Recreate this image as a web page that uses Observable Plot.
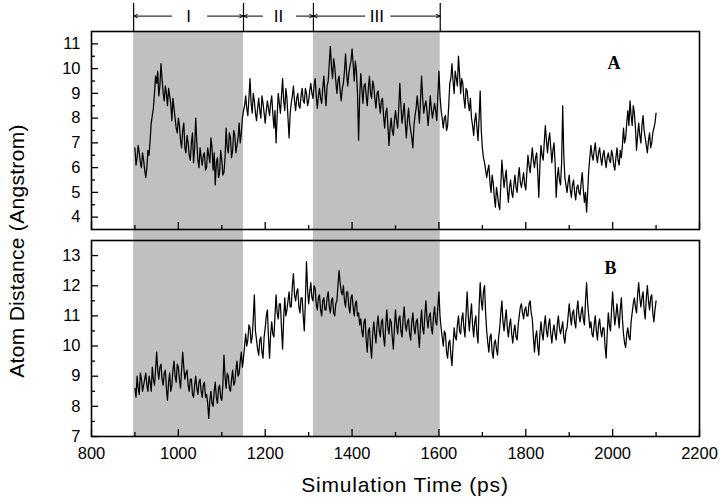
<!DOCTYPE html>
<html>
<head>
<meta charset="utf-8">
<script src="https://cdn.jsdelivr.net/npm/d3@7"></script>
<script src="https://cdn.jsdelivr.net/npm/@observablehq/plot@0.6"></script>
<style>
  body { margin: 0; background: #fff; }
  #wrap { position: relative; width: 720px; height: 499px; overflow: hidden; background: #fff;
          font-family: "Liberation Sans", Arial, sans-serif; color: #000; }
  #wrap svg { position: absolute; left: 0; }
  .title { position: absolute; white-space: nowrap; font-size: 21px; transform-origin: center; }
</style>
</head>
<body>
<div id="wrap"></div>
<script>
// ---- data ----
const timeStart = 900;   // ps, first sample
const timeStep = 5;      // ps between samples of the main arrays; *Mid arrays sit half-way between
const distanceA = [
  6.8, 6.4, 6.6, 6.0, 6.3, 5.6, 6.7, 7.1, 8.1, 9.0,
  9.4, 8.9, 10.2, 9.0, 9.3, 8.5, 8.9, 7.9, 8.4, 7.6,
  8.0, 7.1, 7.5, 6.8, 7.3, 6.5, 7.0, 6.2, 8.0, 6.3,
  6.8, 6.1, 6.6, 6.0, 6.5, 7.2, 5.9, 5.3, 6.4, 5.8,
  6.3, 5.8, 7.6, 6.6, 7.2, 6.7, 7.3, 6.9, 7.8, 7.4,
  8.3, 8.9, 8.1, 9.6, 8.2, 8.7, 7.9, 8.8, 8.0, 8.6,
  7.8, 8.7, 8.1, 8.9, 7.6, 7.0, 9.0, 8.2, 9.6, 8.3,
  8.8, 7.2, 8.6, 9.3, 8.3, 9.0, 8.4, 9.2, 8.6, 9.0,
  8.7, 9.4, 8.8, 9.6, 8.4, 9.2, 8.6, 9.7, 8.5, 9.5,
  10.9, 9.6, 10.1, 9.0, 9.7, 8.7, 9.4, 10.6, 9.3, 10.1,
  10.8, 9.5, 9.9, 7.1, 9.8, 8.6, 9.4, 8.5, 9.7, 8.8,
  9.3, 8.4, 9.1, 8.2, 8.8, 7.6, 8.4, 6.9, 8.0, 7.3,
  8.3, 7.6, 9.4, 7.8, 8.6, 7.2, 8.4, 7.5, 6.8, 8.1,
  8.9, 7.8, 9.7, 8.2, 8.7, 7.7, 8.9, 8.0, 8.6, 7.9,
  9.9, 8.3, 7.6, 8.1, 7.7, 9.4, 10.2, 9.0, 9.6, 10.5,
  9.0, 9.4, 8.4, 9.1, 8.3, 8.0, 7.3, 8.2, 7.1, 9.1,
  6.8, 6.2, 5.6, 6.1, 5.0, 5.4, 4.4, 4.9, 4.3, 6.3,
  5.2, 5.9, 4.6, 5.5, 4.8, 5.7, 5.0, 6.0, 5.2, 5.8,
  5.1, 6.5, 5.8, 6.8, 6.0, 6.6, 4.8, 6.9, 6.3, 7.7,
  6.6, 7.4, 6.2, 7.0, 4.8, 6.0, 5.3, 8.5, 5.6, 5.0,
  5.7, 4.8, 5.5, 4.7, 5.3, 4.9, 5.8, 4.6, 4.2, 5.9,
  6.9, 6.3, 7.0, 6.2, 6.8, 6.1, 6.7, 6.0, 6.6, 6.2,
  6.5, 5.9, 6.8, 6.1, 6.4, 7.6, 7.2, 8.3, 8.7, 7.7,
  8.2, 6.7, 7.8, 7.0, 8.1, 7.2, 6.6, 7.4, 7.0, 7.6,
  8.2
];
const distanceAMid = [
  6.1, 6.9, 6.2, 6.6, 5.9, 6.0, 6.5, 7.8, 8.4, 9.7,
  9.9, 9.3, 9.6, 8.7, 9.0, 9.2, 8.6, 8.8, 8.0, 7.4,
  7.7, 6.8, 7.8, 6.6, 7.0, 6.3, 7.4, 6.8, 7.0, 6.0,
  6.4, 6.5, 5.9, 6.8, 6.2, 6.8, 6.6, 6.2, 5.6, 6.7,
  5.7, 6.4, 6.8, 7.4, 6.4, 7.5, 6.6, 7.2, 7.0, 8.0,
  8.5, 8.4, 8.8, 8.6, 9.0, 8.2, 8.4, 8.3, 8.9, 8.2,
  8.3, 8.4, 8.6, 8.2, 8.3, 8.1, 8.6, 8.9, 8.7, 9.2,
  8.0, 8.2, 8.9, 8.7, 8.8, 8.5, 8.9, 8.7, 9.2, 8.5,
  9.1, 9.0, 9.3, 8.9, 8.9, 8.8, 9.2, 9.0, 9.3, 10.2,
  10.1, 10.4, 9.5, 9.5, 9.1, 9.2, 9.9, 9.8, 9.8, 10.3,
  10.2, 10.3, 9.0, 8.8, 9.2, 9.3, 8.9, 9.2, 9.0, 9.5,
  8.8, 9.0, 8.6, 8.7, 8.1, 8.2, 7.7, 7.6, 7.5, 7.9,
  7.9, 8.4, 8.5, 8.2, 7.8, 7.9, 7.8, 7.2, 7.7, 8.4,
  8.4, 8.7, 8.8, 8.5, 8.3, 8.2, 8.4, 8.3, 8.3, 8.9,
  8.9, 8.0, 8.0, 7.5, 8.5, 9.6, 9.5, 9.9, 9.3, 9.8,
  9.6, 8.8, 9.2, 8.6, 8.8, 7.7, 7.9, 7.6, 8.0, 7.5,
  6.4, 5.9, 5.9, 5.4, 5.7, 4.8, 5.2, 4.5, 5.3, 5.7,
  5.6, 5.1, 5.2, 5.0, 5.3, 5.2, 5.6, 5.4, 5.5, 5.3,
  5.8, 6.1, 6.3, 6.3, 6.4, 5.8, 6.1, 6.5, 7.0, 7.1,
  7.1, 6.8, 6.7, 6.2, 5.6, 5.5, 6.2, 6.5, 5.3, 5.4,
  5.1, 5.3, 5.0, 5.2, 5.0, 5.4, 5.1, 5.0, 5.0, 6.4,
  6.5, 6.7, 6.5, 6.6, 6.4, 6.5, 6.3, 6.4, 6.3, 6.7,
  6.1, 6.4, 6.3, 6.7, 6.9, 7.0, 7.8, 7.7, 8.1, 8.5,
  7.6, 7.3, 7.3, 7.7, 7.5, 6.9, 7.1, 6.8, 7.4, 7.8
];
const distanceB = [
  8.6, 9.0, 8.4, 8.9, 8.7, 9.1, 8.5, 8.8, 9.3, 8.7,
  9.8, 8.9, 9.4, 8.7, 9.2, 8.2, 9.1, 8.7, 9.5, 8.8,
  9.3, 8.6, 9.8, 8.9, 9.2, 8.5, 8.9, 8.3, 9.0, 8.4,
  8.9, 8.3, 8.8, 8.4, 7.6, 8.5, 8.0, 8.8, 8.1, 8.7,
  8.2, 9.7, 8.6, 9.0, 8.5, 9.2, 8.8, 9.5, 9.1, 9.8,
  9.6, 10.4, 10.2, 10.6, 10.3, 11.7, 10.2, 9.7, 10.3, 9.6,
  10.6, 11.2, 9.6, 10.8, 10.3, 11.7, 10.9, 11.4, 9.9, 11.6,
  11.2, 11.8, 11.3, 12.4, 11.5, 11.9, 11.1, 11.6, 10.5, 12.8,
  11.4, 12.1, 11.5, 11.9, 11.2, 11.7, 11.0, 11.6, 11.2, 11.8,
  11.1, 11.6, 11.0, 11.5, 12.5, 11.8, 12.0, 11.3, 11.8, 11.1,
  11.7, 11.0, 11.5, 11.1, 10.9, 10.3, 10.9, 9.8, 10.6, 9.6,
  10.8, 10.1, 11.0, 10.3, 10.9, 10.0, 11.2, 10.4, 10.8, 9.9,
  11.2, 10.4, 11.0, 10.3, 11.3, 10.5, 10.9, 10.2, 11.1, 10.4,
  10.9, 9.95, 11.2, 10.4, 11.5, 10.6, 11.1, 10.4, 11.3, 10.7,
  11.8, 10.6, 10.0, 10.4, 9.6, 10.2, 9.35, 10.6, 10.2, 11.0,
  10.4, 11.1, 10.3, 11.8, 10.5, 11.4, 10.3, 11.0, 10.1, 12.1,
  11.2, 12.0, 10.5, 9.8, 10.4, 9.6, 10.2, 9.7, 10.6, 11.5,
  10.5, 11.2, 10.3, 10.9, 10.1, 10.7, 10.2, 11.0, 11.4, 10.9,
  11.3, 11.0, 11.5, 10.9, 9.8, 10.5, 9.7, 10.8, 10.2, 11.0,
  10.3, 10.9, 10.1, 10.7, 10.2, 11.0, 10.4, 10.8, 10.1, 10.6,
  11.4, 10.7, 11.2, 10.6, 11.5, 10.8, 11.3, 10.7, 12.1, 11.0,
  10.8, 10.3, 11.0, 10.2, 10.9, 10.3, 10.6, 9.6, 11.1, 10.5,
  11.8, 10.7, 11.4, 10.6, 11.6, 10.4, 9.95, 10.6, 10.2, 11.1,
  11.6, 11.1, 12.1, 11.3, 11.8, 10.9, 12.0, 11.2, 11.7, 10.8,
  11.5
];
const distanceBMid = [
  8.3, 8.6, 9.1, 8.5, 8.9, 8.7, 9.0, 8.5, 8.9, 9.2,
  9.2, 9.3, 8.9, 9.1, 8.6, 8.8, 8.5, 9.2, 9.0, 9.4,
  8.9, 9.2, 9.3, 9.1, 8.7, 8.9, 8.4, 8.7, 8.6, 8.8,
  8.5, 8.7, 8.3, 8.1, 8.2, 8.1, 8.5, 8.3, 8.6, 8.3,
  8.7, 9.0, 9.1, 8.6, 8.9, 8.7, 9.2, 9.0, 9.5, 9.3,
  10.0, 10.0, 10.7, 10.1, 10.9, 10.5, 9.9, 10.2, 9.8, 10.3,
  11.0, 10.3, 10.4, 10.4, 11.0, 11.1, 11.4, 10.6, 10.9, 11.0,
  11.5, 11.3, 12.0, 11.7, 11.8, 11.3, 11.6, 11.0, 11.5, 11.9,
  11.8, 11.6, 12.0, 11.4, 11.6, 11.2, 11.5, 11.2, 11.6, 11.3,
  11.5, 11.1, 11.4, 12.0, 12.1, 11.7, 11.5, 11.8, 11.3, 11.6,
  11.3, 11.4, 11.0, 10.7, 10.5, 10.8, 10.2, 10.5, 10.0, 10.4,
  10.4, 10.7, 10.5, 10.8, 10.3, 10.7, 10.6, 10.9, 10.3, 10.6,
  10.7, 10.9, 10.5, 10.9, 10.7, 10.8, 10.4, 10.8, 10.6, 10.8,
  10.4, 10.7, 10.6, 11.0, 10.9, 11.0, 10.6, 11.0, 10.8, 11.3,
  11.0, 10.3, 10.5, 9.8, 10.1, 9.7, 10.0, 10.3, 10.7, 10.5,
  10.9, 10.6, 11.1, 11.0, 11.0, 10.7, 10.8, 10.4, 11.3, 11.5,
  11.8, 11.1, 10.1, 10.3, 9.8, 10.1, 9.9, 10.3, 11.1, 10.8,
  10.9, 10.6, 10.7, 10.4, 10.5, 10.3, 10.7, 11.3, 11.1, 11.2,
  11.0, 11.4, 11.1, 10.3, 10.3, 10.0, 10.4, 10.4, 10.7, 10.5,
  10.7, 10.4, 10.5, 10.4, 10.7, 10.6, 10.6, 10.3, 10.5, 11.0,
  11.0, 11.1, 10.8, 11.2, 11.0, 11.1, 10.9, 11.5, 11.4, 10.6,
  10.4, 10.7, 10.5, 10.7, 10.5, 10.6, 10.0, 10.4, 10.7, 11.2,
  11.2, 11.0, 11.0, 11.2, 10.9, 10.1, 10.4, 10.3, 10.8, 11.4,
  11.3, 11.7, 11.6, 11.6, 11.2, 11.6, 11.5, 11.6, 11.1, 11.2
];
const phaseBounds = [897, 1150, 1311, 1603];      // ps
const phaseLabels = ["I", "II", "III"];
const shadedPhases = [0, 2];                       // phases I and III shaded
const xDomain = [800, 2200];
const xLabelTicks = [800, 1000, 1200, 1400, 1600, 1800, 2000, 2200];
const xMinorTicks = [900, 1100, 1300, 1500, 1700, 1900, 2100];
const yDomainA = [3.5, 11.5];
const yTicksA = [4, 5, 6, 7, 8, 9, 10, 11];
const yMinorA = [4.5, 5.5, 6.5, 7.5, 8.5, 9.5, 10.5];
const yDomainB = [7, 13.5];
const yTicksB = [7, 8, 9, 10, 11, 12, 13];
const yMinorB = [7.5, 8.5, 9.5, 10.5, 11.5, 12.5];
const panelNames = ["A", "B"];
const xTitle = "Simulation Time (ps)";
const yTitle = "Atom Distance (Angstrom)";

// ---- derived tables ----
function interleave(main, mid) {
  const out = [];
  main.forEach((d, i) => {
    out.push({time: timeStart + i * timeStep, d});
    if (i < mid.length) out.push({time: timeStart + (i + 0.5) * timeStep, d: mid[i]});
  });
  return out;
}
const seriesA = interleave(distanceA, distanceAMid);
const seriesB = interleave(distanceB, distanceBMid);
const shades = shadedPhases.map(i => ({start: phaseBounds[i], end: phaseBounds[i + 1]}));
const phases = phaseLabels.map((label, i) => ({
  label, left: phaseBounds[i], right: phaseBounds[i + 1],
  mid: (phaseBounds[i] + phaseBounds[i + 1]) / 2
}));

const FONT = '"Liberation Sans", Arial, sans-serif';
const common = {
  width: 720, marginLeft: 91, marginRight: 21,
  x: {domain: xDomain, label: null},
  style: {fontFamily: FONT, fontSize: "16.5px", color: "#000", background: "transparent", overflow: "visible"}
};

const wrap = document.getElementById("wrap");

// Bottom panel (B)
const plotB = Plot.plot({
  ...common,
  height: 270, marginTop: 11, marginBottom: 63,
  y: {domain: yDomainB, label: null},
  marks: [
    Plot.rect(shades, {x1: "start", x2: "end", fill: "#c0c0c0", insetTop: -11}),
    Plot.line(seriesB, {x: "time", y: "d", stroke: "#000", strokeWidth: 1.25}),
    Plot.axisY(yTicksB, {tickSize: 0, tickPadding: 11, label: null, fill: "#000"}),
    Plot.axisY(yTicksB, {tickSize: -7, text: null, label: null, strokeWidth: 1.3}),
    Plot.axisY(yMinorB, {tickSize: -4, text: null, label: null, strokeWidth: 1.3}),
    Plot.axisX(xLabelTicks, {tickSize: 0, tickPadding: 10.5, label: null, tickFormat: "d", fill: "#000"}),
    Plot.axisX(xLabelTicks, {tickSize: -7, text: null, label: null, strokeWidth: 1.3}),
    Plot.axisX(xMinorTicks, {tickSize: -4, text: null, label: null, strokeWidth: 1.3}),
    Plot.text([panelNames[1]], {frameAnchor: "top-right", dx: -83, dy: 28, lineAnchor: "middle", fill: "#000",
      fontFamily: '"Liberation Serif", "Times New Roman", serif', fontWeight: "bold", fontSize: 18}),
    Plot.frame({stroke: "#000", strokeWidth: 1.6})
  ]
});
plotB.style.top = "229px";
wrap.appendChild(plotB);

// Top panel (A)
const plotA = Plot.plot({
  ...common,
  height: 208, marginTop: 5, marginBottom: 5,
  y: {domain: yDomainA, label: null},
  marks: [
    Plot.rect(shades, {x1: "start", x2: "end", fill: "#c0c0c0"}),
    Plot.line(seriesA, {x: "time", y: "d", stroke: "#000", strokeWidth: 1.25}),
    Plot.axisY(yTicksA, {tickSize: 0, tickPadding: 11, label: null, fill: "#000"}),
    Plot.axisY(yTicksA, {tickSize: -7, text: null, label: null, strokeWidth: 1.3}),
    Plot.axisY(yMinorA, {tickSize: -4, text: null, label: null, strokeWidth: 1.3}),
    Plot.axisX(xLabelTicks, {tickSize: -7, text: null, label: null, strokeWidth: 1.3}),
    Plot.axisX(xMinorTicks, {tickSize: -4, text: null, label: null, strokeWidth: 1.3}),
    Plot.text([panelNames[0]], {frameAnchor: "top-right", dx: -79, dy: 32, lineAnchor: "middle", fill: "#000",
      fontFamily: '"Liberation Serif", "Times New Roman", serif', fontWeight: "bold", fontSize: 18}),
    Plot.frame({stroke: "#000", strokeWidth: 1.6})
  ]
});
plotA.style.top = "26px";
wrap.appendChild(plotA);

// Phase annotation strip above panel A
const insets = [17, 16, 12];
const arrowMarks = phases.flatMap((p, i) => [
  Plot.arrow([p], {x1: "mid", x2: "left", y1: () => 0.55, y2: () => 0.55, insetStart: insets[i],
    stroke: "#000", strokeWidth: 1, headLength: 6, headAngle: 45}),
  Plot.arrow([p], {x1: "mid", x2: "right", y1: () => 0.55, y2: () => 0.55, insetStart: insets[i] + 2,
    stroke: "#000", strokeWidth: 1, headLength: 6, headAngle: 45})
]);
const plotP = Plot.plot({
  ...common,
  height: 31, marginTop: 3, marginBottom: 0,
  y: {domain: [0, 1], axis: null},
  x: {domain: xDomain, axis: null},
  marks: [
    Plot.ruleX(phaseBounds, {stroke: "#000", strokeWidth: 1.2}),
    ...arrowMarks,
    Plot.text(phases, {x: "mid", y: () => 0.55, text: "label", fontSize: 17, lineAnchor: "middle",
      fill: "#000", fontFamily: FONT})
  ]
});
plotP.style.top = "0px";
wrap.appendChild(plotP);

// Axis titles
const xt = document.createElement("div");
xt.className = "title";
xt.textContent = xTitle;
xt.style.left = "405px"; xt.style.top = "485px";
xt.style.letterSpacing = "0.8px";
xt.style.transform = "translate(-50%, -50%)";
wrap.appendChild(xt);

const yt = document.createElement("div");
yt.className = "title";
yt.textContent = yTitle;
yt.style.left = "17px"; yt.style.top = "251px";
yt.style.letterSpacing = "0.3px";
yt.style.transform = "translate(-50%, -50%) rotate(-90deg)";
wrap.appendChild(yt);
</script>
</body>
</html>
